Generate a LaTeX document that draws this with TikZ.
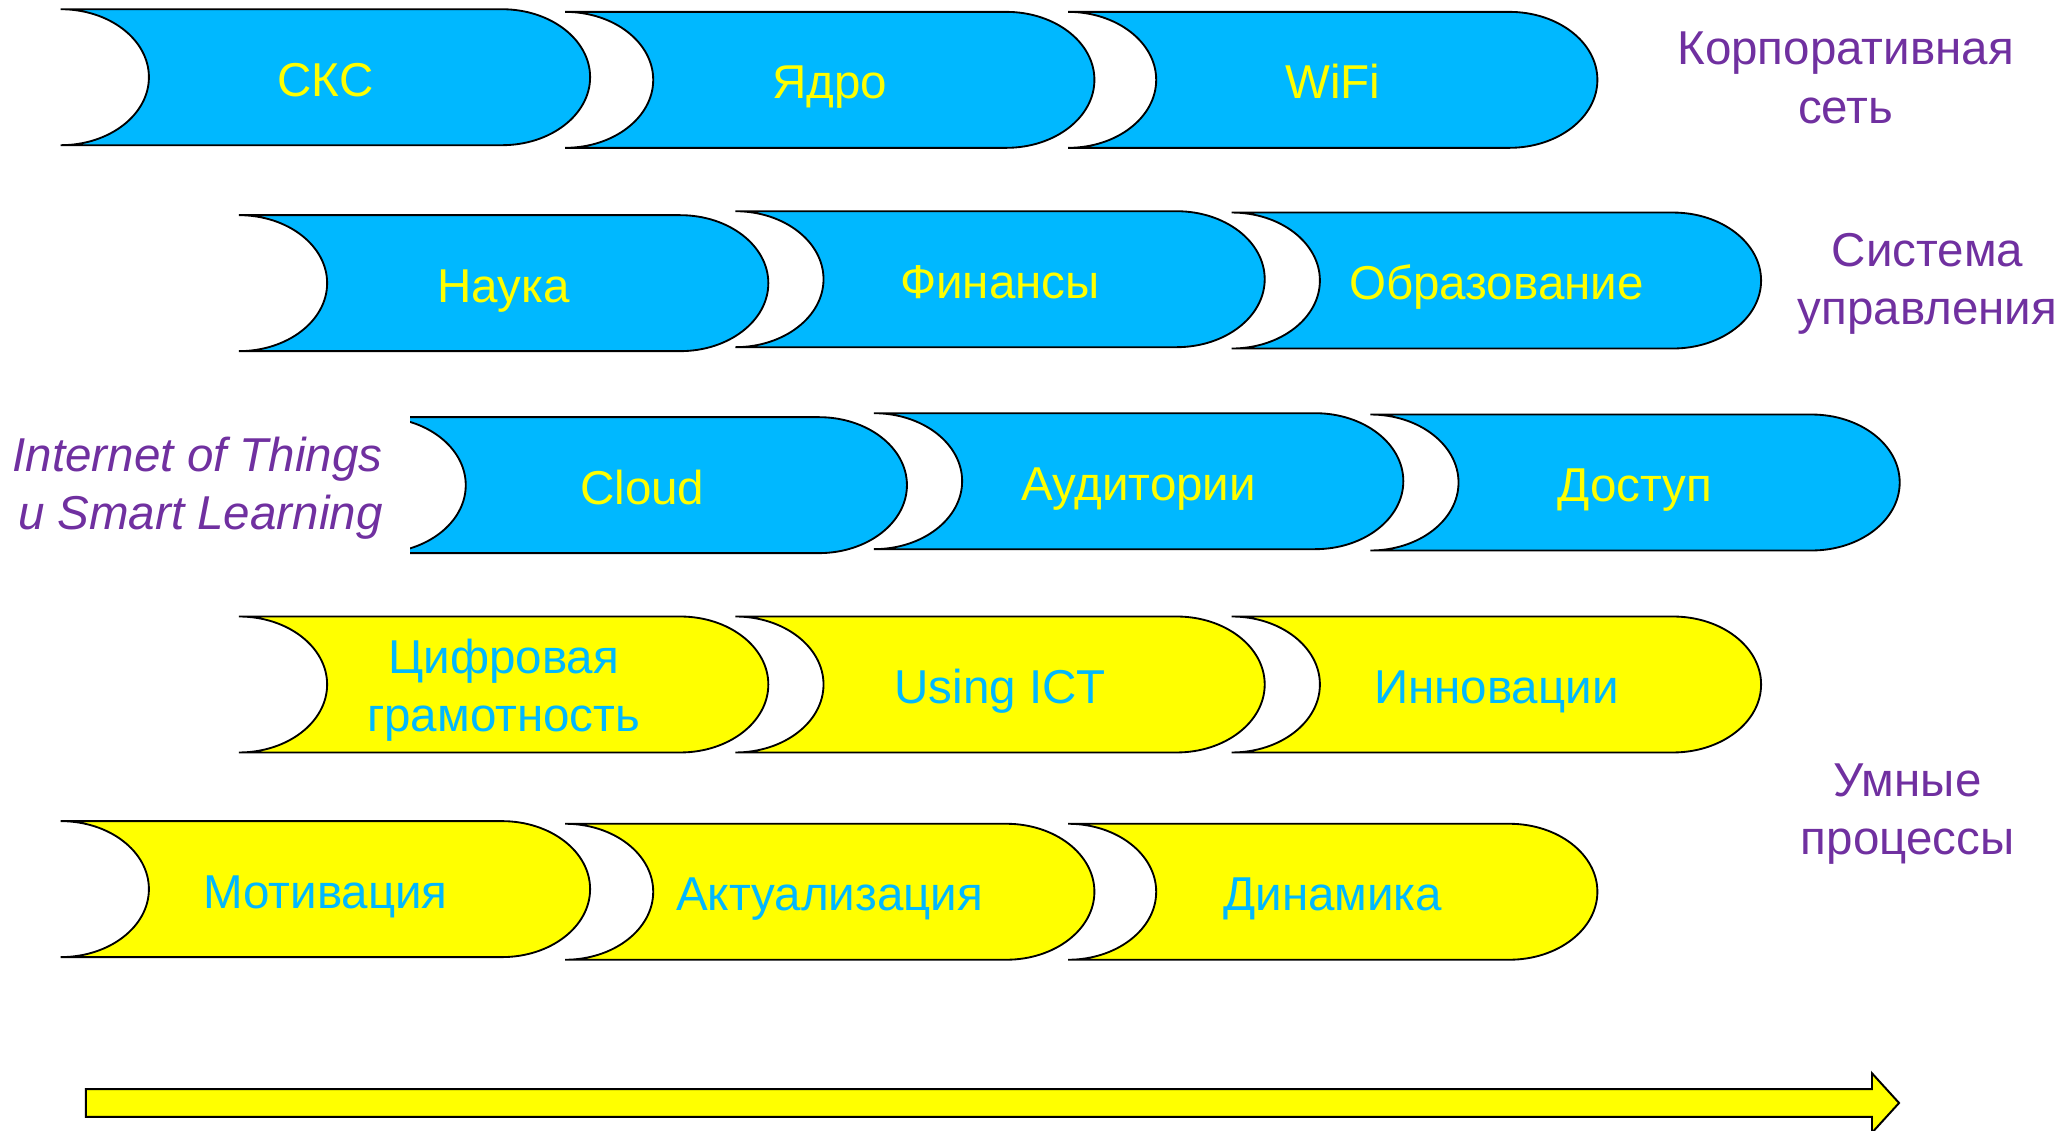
\documentclass[tikz,border=0pt]{standalone}
\usepackage{fontspec}
\setmainfont{Liberation Sans}
\definecolor{cyanf}{RGB}{0,184,255}
\definecolor{yel}{RGB}{255,255,0}
\definecolor{purp}{RGB}{112,48,160}
\tikzset{
  blkline/.style={draw=black,line width=1.4pt},
  blktext/.style={font=\fontsize{36}{44}\selectfont,align=center,inner sep=0pt},
  lbl/.style={font=\fontsize{36}{44}\selectfont,align=center,text=purp,inner sep=0pt},
}
\newcommand\myblk[7][anchor=base,yshift=-14.5pt]{% opts, name, L, T, fill, textcolor, text
  \pgfmathsetmacro\Ty{856-#4}
  \pgfmathsetmacro\My{856-#4-51.5}
  \pgfmathsetmacro\Ry{#3+334.2}
  \draw[blkline,fill=#5] (#3,\Ty) -- (\Ry,\Ty)
    arc[start angle=90,end angle=-90,x radius=66.8pt,y radius=51.5pt]
    -- (#3,\Ty-103)
    arc[start angle=-90,end angle=90,x radius=66.8pt,y radius=51.5pt] -- cycle;
  \node[blktext,text=#6,#1] (#2) at (#3+200.5,\My) {#7};
}
\begin{document}
\begin{tikzpicture}[x=1pt,y=1pt]
\useasboundingbox (0,0) rectangle (1568,856);
% row 1
\myblk{sks}{46}{7}{cyanf}{yel}{СКС}
\myblk{yadro}{428}{9}{cyanf}{yel}{Ядро}
\myblk{wifi}{809}{9}{cyanf}{yel}{WiFi}
% row 2
\myblk{nauka}{181}{163}{cyanf}{yel}{Наука}
\myblk{fin}{557}{160}{cyanf}{yel}{Финансы}
\myblk{obr}{933}{161}{cyanf}{yel}{Образование}
% row 3
\myblk{cloud}{286}{316}{cyanf}{yel}{Cloud}
\myblk{aud}{662}{313}{cyanf}{yel}{Аудитории}
\myblk{dost}{1038}{314}{cyanf}{yel}{Доступ}
% row 4
\myblk[yshift=-4pt]{cifr}{181}{467}{yel}{cyanf}{Цифровая\\грамотность}
\myblk{ict}{557}{467}{yel}{cyanf}{Using ICT}
\myblk{innov}{933}{467}{yel}{cyanf}{Инновации}
% row 5
\myblk{motiv}{46}{622}{yel}{cyanf}{Мотивация}
\myblk{aktual}{428}{624}{yel}{cyanf}{Актуализация}
\myblk{dinam}{809}{624}{yel}{cyanf}{Динамика}
% labels
\node[lbl] (corp) at (1398,{856-59}) {Корпоративная\\сеть};
\node[lbl] (sys) at (1460,{856-215}) {Система\\управления};
\node[lbl] (smart) at (1445,{856-617}) {Умные\\процессы};
\node[lbl,font=\fontsize{36}{44}\selectfont\itshape,fill=white,anchor=east,
      minimum height=130pt,align=right,inner xsep=21pt,inner ysep=0pt]
  (iot) at (311,{856-369.5}) {Internet of Things\\u Smart Learning};
% arrow
\draw[line width=1.5pt,fill=yel] (65,31) -- (1418,31) -- (1418,43) -- (1438.5,20.5)
  -- (1418,-2) -- (1418,10) -- (65,10) -- cycle;
\end{tikzpicture}
\end{document}
